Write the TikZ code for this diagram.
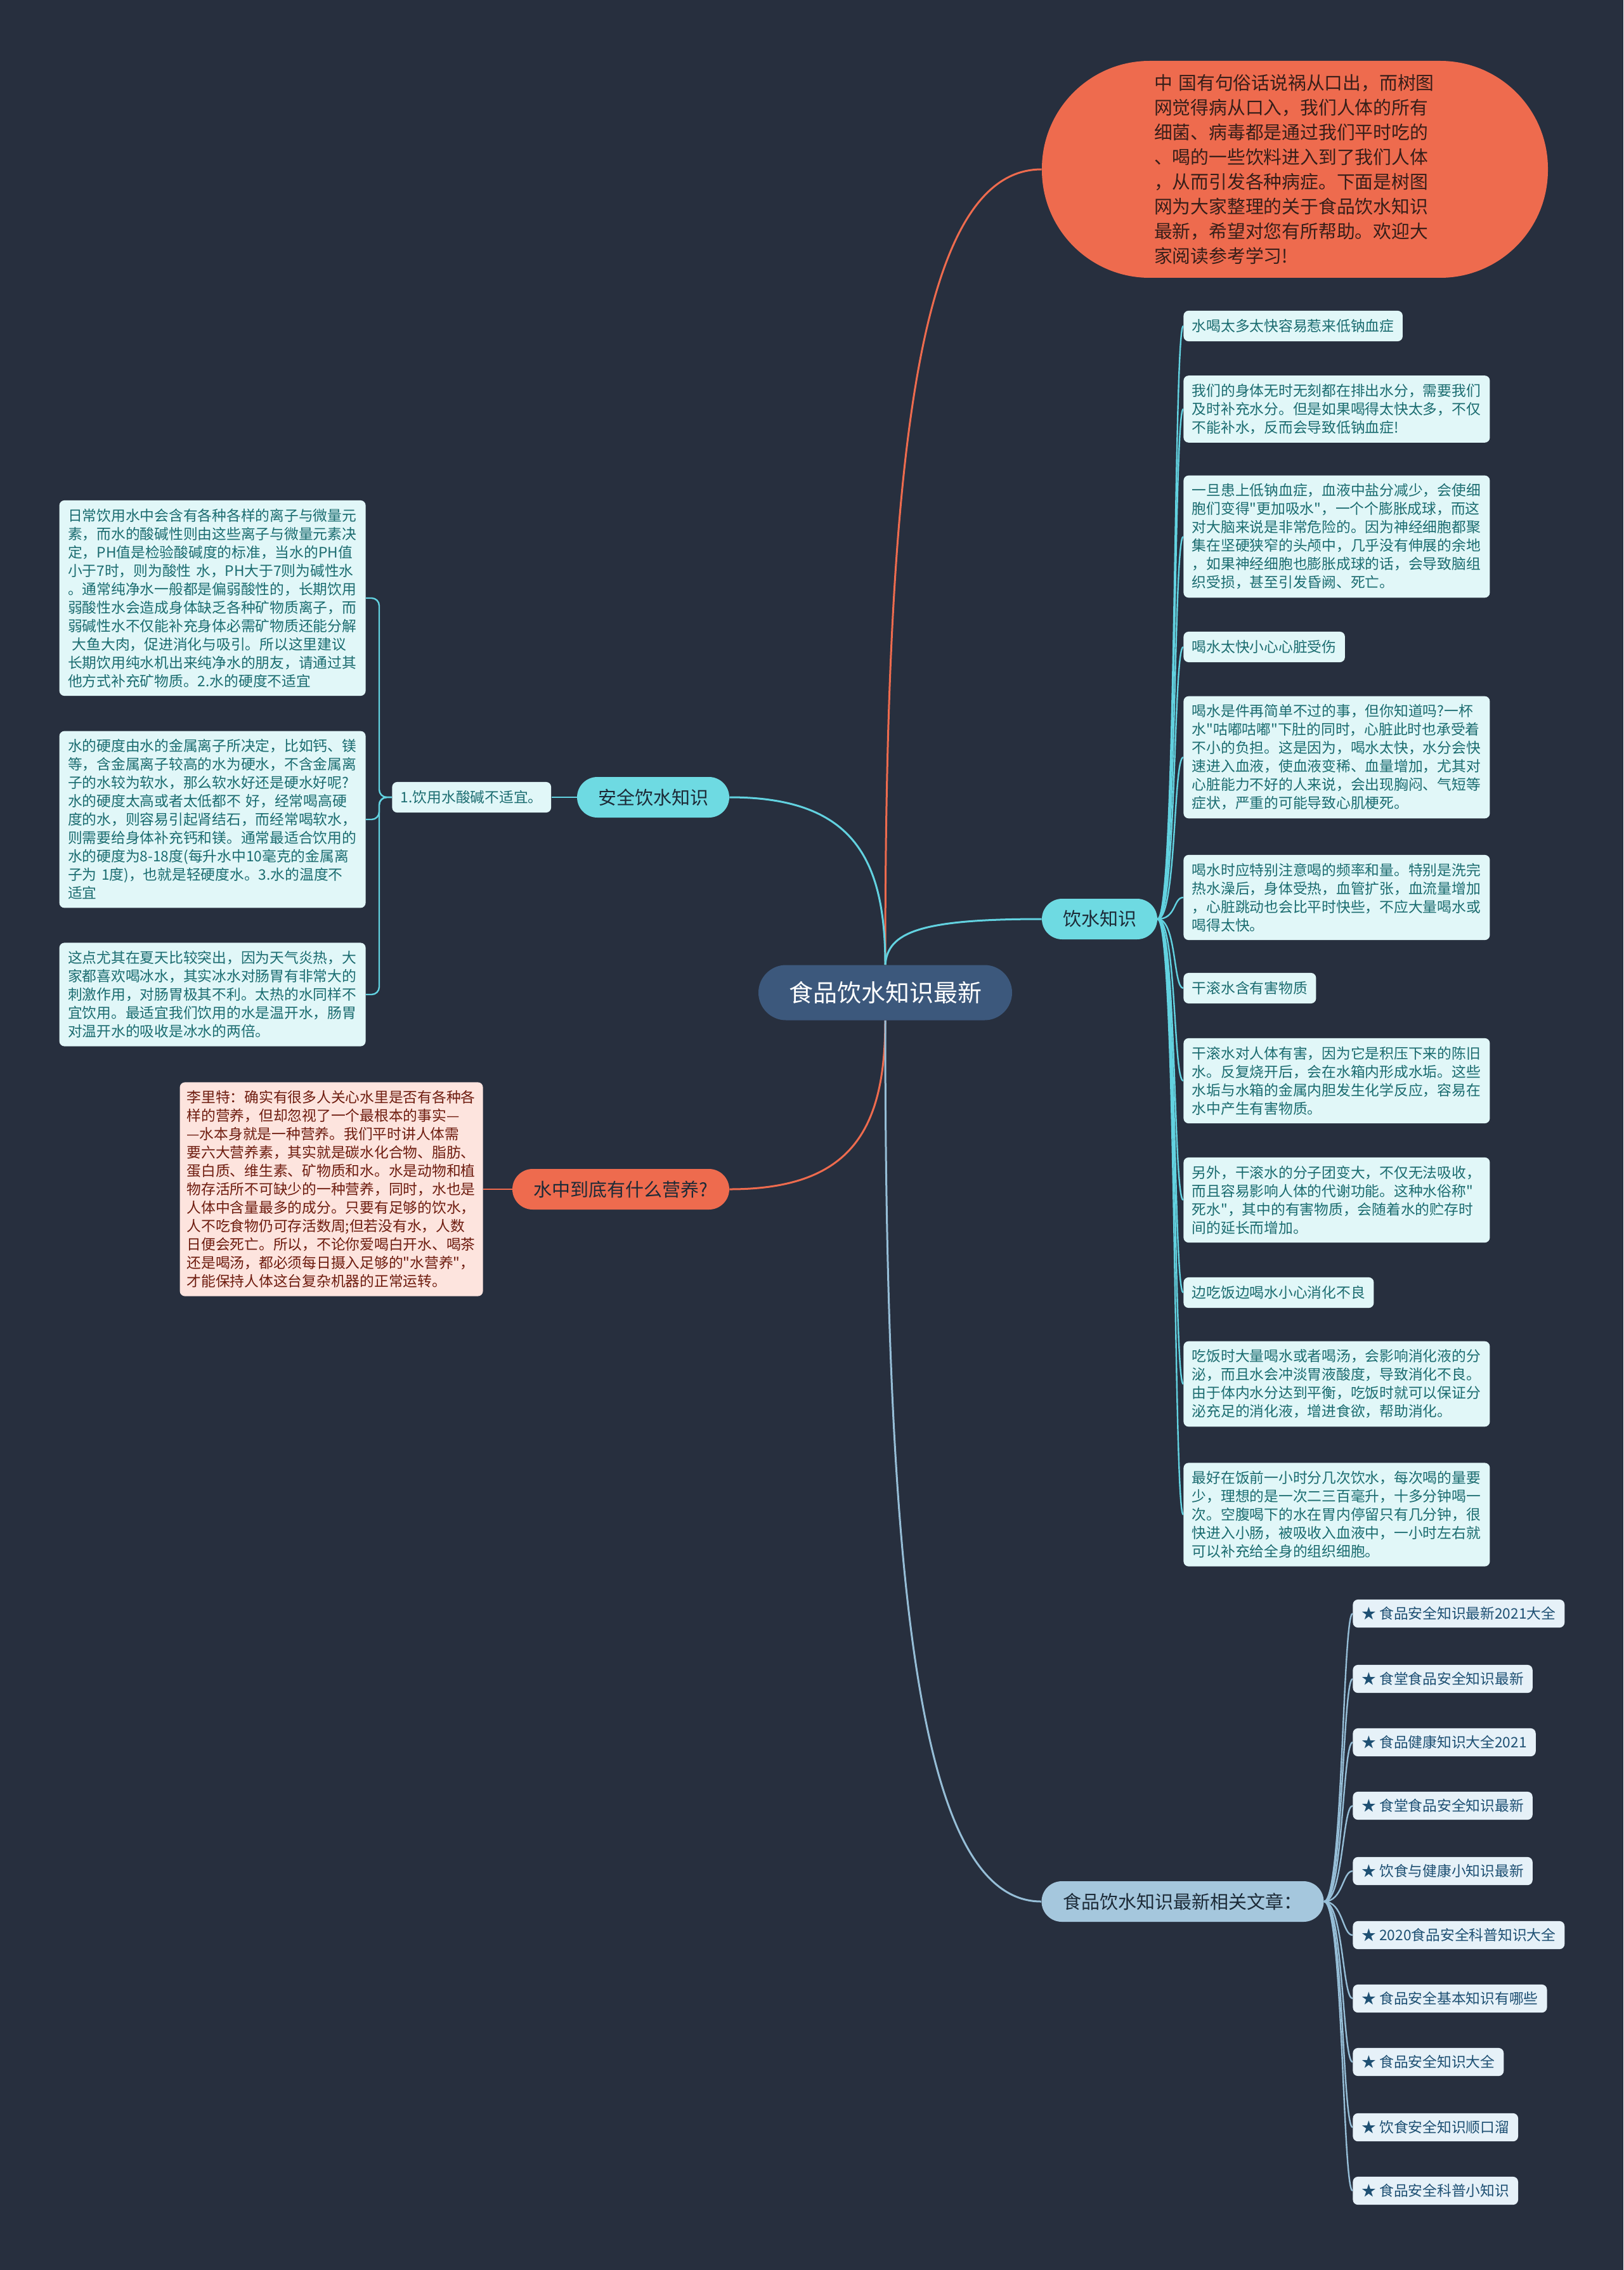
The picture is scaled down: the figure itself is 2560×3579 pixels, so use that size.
\documentclass[tikz,border=0pt]{standalone}
\usepackage{fontspec}
\setmainfont{Noto Sans CJK SC}[Ligatures=TeXOff]
\definecolor{bgc}{RGB}{39,47,62}
\definecolor{cenfill}{RGB}{60,88,124}
\definecolor{cyanfill}{RGB}{110,218,226}
\definecolor{cyanline}{RGB}{98,210,224}
\definecolor{leaffill}{RGB}{225,247,248}
\definecolor{leaftext}{RGB}{27,108,112}
\definecolor{orfill}{RGB}{238,107,78}
\definecolor{ortext}{RGB}{55,30,25}
\definecolor{pinkfill}{RGB}{253,228,222}
\definecolor{pinktext}{RGB}{110,28,15}
\definecolor{relfill}{RGB}{165,199,221}
\definecolor{relline}{RGB}{150,190,215}
\definecolor{relleaf}{RGB}{230,241,248}
\definecolor{reltext}{RGB}{30,80,115}
\definecolor{darktext}{RGB}{28,42,55}
\newcommand\leaffnt{\fontsize{11.375}{14.5}\selectfont}
\newcommand\topfnt{\fontsize{14.4}{19.5}\selectfont}
\newcommand\lonefnt{\fontsize{14.5}{17}\selectfont}
\newcommand\cenfnt{\fontsize{19}{22}\selectfont}
\tikzset{
  leafbox/.style={fill=leaffill, text=leaftext, rounded corners=4pt, inner xsep=6.75pt, inner ysep=6.75pt, align=left, font=\leaffnt, anchor=west},
  leafwide/.style={leafbox, text width=228pt, inner ysep=6.5pt},
  pinkbox/.style={leafwide, fill=pinkfill, text=pinktext, inner xsep=5.5pt, anchor=east},
  relbox/.style={fill=relleaf, text=reltext, rounded corners=4pt, inner xsep=7pt, inner ysep=5.75pt, font=\leaffnt, anchor=west},
  lone/.style={rounded corners=16pt, minimum height=32pt, font=\lonefnt, inner xsep=4pt},
  branch/.style={line width=1.5pt},
  twig/.style={line width=1.2pt},
}
\begin{document}
\begin{tikzpicture}[x=0.5pt, y=-0.5pt]
\fill[bgc] (0,0) rectangle (2560,3579);
\useasboundingbox (0,0) rectangle (2560,3579);

% central
\node[fill=cenfill, text=white, rounded corners=21.75pt, minimum width=200pt, minimum height=43.5pt, font=\cenfnt] (c) at (1396,1565) {食品饮水知识最新};

% top intro
\node[fill=orfill, text=ortext, rounded corners=85pt, minimum width=399pt, minimum height=171pt, text width=222pt, align=left, font=\topfnt] (t0) at (2042,267)
{中 国有句俗话说祸从口出，而树图\\网觉得病从口入，我们人体的所有\\细菌、病毒都是通过我们平时吃的\\、喝的一些饮料进入到了我们人体\\，从而引发各种病症。下面是树图\\网为大家整理的关于食品饮水知识\\最新，希望对您有所帮助。欢迎大\\家阅读参考学习!};

% level 1
\node[lone, fill=cyanfill, text=darktext, minimum width=120pt] (k1) at (1030,1257) {安全饮水知识};
\node[lone, fill=cyanfill, text=darktext, minimum width=91pt] (k2) at (1734,1449) {饮水知识};
\node[lone, fill=orfill, text=darktext, minimum width=171pt] (k3) at (979,1875) {水中到底有什么营养?};
\node[lone, fill=relfill, text=darktext, minimum width=222.5pt] (k4) at (1865,2998) {食品饮水知识最新相关文章：};

% right children of 饮水知识
\node[leafbox] (r1) at (1866,514) {水喝太多太快容易惹来低钠血症};
\node[leafwide] (r2) at (1866,645) {我们的身体无时无刻都在排出水分，需要我们\\及时补充水分。但是如果喝得太快太多，不仅\\不能补水，反而会导致低钠血症!};
\node[leafwide] (r3) at (1866,846) {一旦患上低钠血症，血液中盐分减少，会使细\\胞们变得"更加吸水"，一个个膨胀成球，而这\\对大脑来说是非常危险的。因为神经细胞都聚\\集在坚硬狭窄的头颅中，几乎没有伸展的余地\\，如果神经细胞也膨胀成球的话，会导致脑组\\织受损，甚至引发昏阙、死亡。};
\node[leafbox] (r4) at (1866,1020) {喝水太快小心心脏受伤};
\node[leafwide] (r5) at (1866,1194) {喝水是件再简单不过的事，但你知道吗?一杯\\水"咕嘟咕嘟"下肚的同时，心脏此时也承受着\\不小的负担。这是因为，喝水太快，水分会快\\速进入血液，使血液变稀、血量增加，尤其对\\心脏能力不好的人来说，会出现胸闷、气短等\\症状，严重的可能导致心肌梗死。};
\node[leafwide] (r6) at (1866,1415) {喝水时应特别注意喝的频率和量。特别是洗完\\热水澡后，身体受热，血管扩张，血流量增加\\，心脏跳动也会比平时快些，不应大量喝水或\\喝得太快。};
\node[leafbox] (r7) at (1866,1558) {干滚水含有害物质};
\node[leafwide] (r8) at (1866,1704) {干滚水对人体有害，因为它是积压下来的陈旧\\水。反复烧开后，会在水箱内形成水垢。这些\\水垢与水箱的金属内胆发生化学反应，容易在\\水中产生有害物质。};
\node[leafwide] (r9) at (1866,1892) {另外，干滚水的分子团变大，不仅无法吸收，\\而且容易影响人体的代谢功能。这种水俗称"\\死水"，其中的有害物质，会随着水的贮存时\\间的延长而增加。};
\node[leafbox] (r10) at (1866,2038) {边吃饭边喝水小心消化不良};
\node[leafwide] (r11) at (1866,2182) {吃饭时大量喝水或者喝汤，会影响消化液的分\\泌，而且水会冲淡胃液酸度，导致消化不良。\\由于体内水分达到平衡，吃饭时就可以保证分\\泌充足的消化液，增进食欲，帮助消化。};
\node[leafwide] (r12) at (1866,2388) {最好在饭前一小时分几次饮水，每次喝的量要\\少，理想的是一次二三百毫升，十多分钟喝一\\次。空腹喝下的水在胃内停留只有几分钟，很\\快进入小肠，被吸收入血液中，一小时左右就\\可以补充给全身的组织细胞。};

% left branch 安全饮水知识
\node[leafbox] (s1) at (618,1257) {1.饮用水酸碱不适宜。};
\node[leafwide, anchor=east] (l1) at (577,943) {日常饮用水中会含有各种各样的离子与微量元\\素，而水的酸碱性则由这些离子与微量元素决\\定，PH值是检验酸碱度的标准，当水的PH值\\小于7时，则为酸性 水，PH大于7则为碱性水\\。通常纯净水一般都是偏弱酸性的，长期饮用\\弱酸性水会造成身体缺乏各种矿物质离子，而\\弱碱性水不仅能补充身体必需矿物质还能分解\\\hspace*{0.3em}大鱼大肉，促进消化与吸引。所以这里建议\\长期饮用纯水机出来纯净水的朋友，请通过其\\他方式补充矿物质。2.水的硬度不适宜};
\node[leafwide, anchor=east] (l2) at (577,1292) {水的硬度由水的金属离子所决定，比如钙、镁\\等，含金属离子较高的水为硬水，不含金属离\\子的水较为软水，那么软水好还是硬水好呢?\\水的硬度太高或者太低都不 好，经常喝高硬\\度的水，则容易引起肾结石，而经常喝软水，\\则需要给身体补充钙和镁。通常最适合饮用的\\水的硬度为8-18度(每升水中10毫克的金属离\\子为 1度)，也就是轻硬度水。3.水的温度不\\适宜};
\node[leafwide, anchor=east] (l3) at (577,1568) {这点尤其在夏天比较突出，因为天气炎热，大\\家都喜欢喝冰水，其实冰水对肠胃有非常大的\\刺激作用，对肠胃极其不利。太热的水同样不\\宜饮用。最适宜我们饮用的水是温开水，肠胃\\对温开水的吸收是冰水的两倍。};

% pink
\node[pinkbox] (p1) at (762,1875) {李里特：确实有很多人关心水里是否有各种各\\样的营养，但却忽视了一个最根本的事实—\\—水本身就是一种营养。我们平时讲人体需\\要六大营养素，其实就是碳水化合物、脂肪、\\蛋白质、维生素、矿物质和水。水是动物和植\\物存活所不可缺少的一种营养，同时，水也是\\人体中含量最多的成分。只要有足够的饮水，\\人不吃食物仍可存活数周;但若没有水，人数\\日便会死亡。所以，不论你爱喝白开水、喝茶\\还是喝汤，都必须每日摄入足够的"水营养"，\\才能保持人体这台复杂机器的正常运转。};

% related articles
\node[relbox] (a1) at (2133,2544) {★ 食品安全知识最新2021大全};
\node[relbox] (a2) at (2133,2647) {★ 食堂食品安全知识最新};
\node[relbox] (a3) at (2133,2747) {★ 食品健康知识大全2021};
\node[relbox] (a4) at (2133,2847) {★ 食堂食品安全知识最新};
\node[relbox] (a5) at (2133,2950) {★ 饮食与健康小知识最新};
\node[relbox] (a6) at (2133,3051) {★ 2020食品安全科普知识大全};
\node[relbox] (a7) at (2133,3151) {★ 食品安全基本知识有哪些};
\node[relbox] (a8) at (2133,3251) {★ 食品安全知识大全};
\node[relbox] (a9) at (2133,3354) {★ 饮食安全知识顺口溜};
\node[relbox] (a10) at (2133,3454) {★ 食品安全科普小知识};

% main branches
\draw[branch, orfill] (c.north) .. controls (1396,706) and (1450,267) .. (t0.west);
\draw[branch, cyanline] (c.north) .. controls (1396,1350) and (1342,1257) .. (k1.east);
\draw[branch, cyanline] (c.north) .. controls (1400,1470) and (1450,1449) .. (k2.west);
\draw[branch, orfill] (c.south) .. controls (1396,1782) and (1342,1875) .. (k3.east);
\draw[branch, relline] (c.south) .. controls (1396,2512) and (1450,2998) .. (k4.west);

% sub connectors
\foreach \n in {r1,r2,r3,r4,r5,r6,r7,r8,r9,r10,r11,r12}
  \draw[twig, cyanline] (k2.east) .. controls +(30,0) and +(-16,0) .. (\n.west);
\foreach \n in {a1,a2,a3,a4,a5,a6,a7,a8,a9,a10}
  \draw[twig, relline] (k4.east) .. controls +(30,0) and +(-16,0) .. (\n.west);
\draw[twig, cyanline] (k1.west) -- (s1.east);
\foreach \n in {l1,l2,l3}
  \draw[twig, cyanline, rounded corners=6pt] (s1.west) -- ++(-20,0) |- (\n.east);
\draw[twig, orfill] (k3.west) -- (p1.east);
\end{tikzpicture}
\end{document}
